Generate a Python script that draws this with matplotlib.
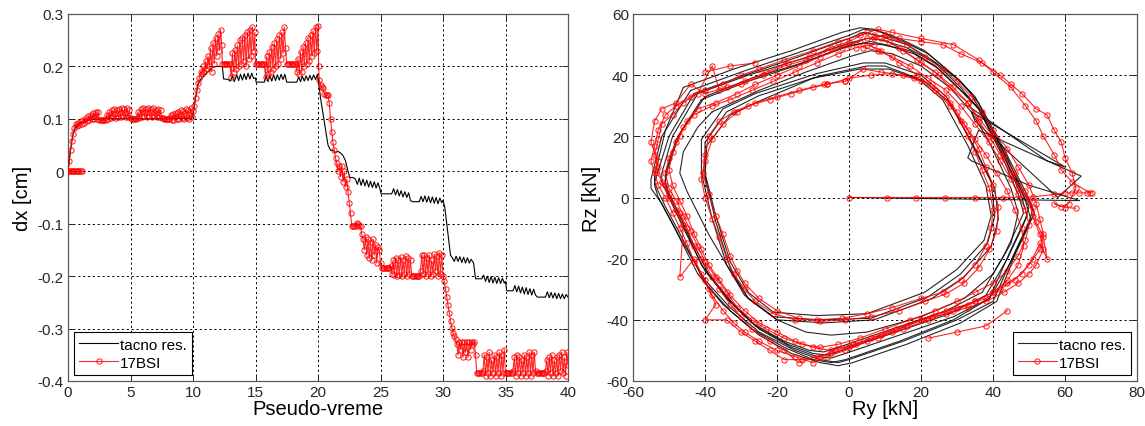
import matplotlib
matplotlib.use("Agg")
import matplotlib.pyplot as plt

plt.rcParams['font.family'] = ['Liberation Sans', 'DejaVu Sans']
plt.rcParams['axes.unicode_minus'] = False

# ---------------- Left panel data: dx vs pseudo-time ----------------
tacno_t = [0.0, 0.2, 0.4, 0.6, 0.8, 1.0, 1.5, 2.0, 2.5, 3.0, 4.0, 5.0, 6.0, 7.0, 8.0, 9.0, 9.8, 10.0,
           10.2, 10.4, 10.6, 10.9, 11.2, 11.5, 11.8, 12.2, 12.35, 12.45, 12.6, 12.8,
           13.0, 13.15, 13.3, 13.5, 13.65, 13.8, 13.95, 14.1, 14.25, 14.4, 14.55, 14.7, 14.85, 15.0,
           15.05, 15.7, 15.85, 16.0, 16.15, 16.3, 16.45, 16.6, 16.75, 16.9, 17.05, 17.2, 17.35, 17.5,
           18.3, 18.45, 18.6, 18.75, 18.9, 19.05, 19.2, 19.35, 19.5, 19.65, 19.8, 19.95,
           20.05, 20.2, 20.4, 20.6, 20.8, 21.0, 21.2, 21.4, 21.6, 21.8, 22.0, 22.2, 22.4, 22.55, 22.8,
           23.0, 23.15, 23.3, 23.45, 23.6, 23.75, 23.9, 24.05, 24.2, 24.35, 24.5, 24.65, 24.8, 24.95,
           25.05, 25.9, 26.05, 26.2, 26.35, 26.5, 26.65, 26.8, 26.95, 27.1, 27.25, 27.4, 27.55,
           28.1, 28.25, 28.4, 28.55, 28.7, 28.85, 29.0, 29.15, 29.3, 29.45, 29.6, 29.75, 29.9, 30.0,
           30.15, 30.3, 30.45, 30.6, 30.75, 30.9, 31.05, 31.2, 31.35, 31.5, 31.65, 31.8, 31.95, 32.1,
           32.25, 32.45, 32.6, 33.1, 33.25, 33.4, 33.55, 33.7, 33.85, 34.0, 34.15, 34.3, 34.45, 34.6,
           34.75, 34.9, 35.0, 35.1, 35.6, 35.75, 35.9, 36.05, 36.2, 36.35, 36.5, 36.65, 36.8, 36.95,
           37.1, 37.25, 37.4, 37.55, 38.2, 38.35, 38.5, 38.65, 38.8, 38.95, 39.1, 39.25, 39.4, 39.55,
           39.7, 39.85, 40.0]
tacno_dx = [0.0, 0.04, 0.07, 0.083, 0.088, 0.092, 0.096, 0.099, 0.1, 0.101, 0.1, 0.102, 0.1, 0.101, 0.1, 0.101, 0.1, 0.105,
            0.14, 0.165, 0.175, 0.183, 0.19, 0.198, 0.2, 0.2, 0.2, 0.176, 0.176, 0.175,
            0.172, 0.182, 0.171, 0.184, 0.173, 0.185, 0.174, 0.186, 0.175, 0.187, 0.176, 0.187, 0.177, 0.178,
            0.17, 0.17, 0.182, 0.171, 0.183, 0.172, 0.184, 0.173, 0.184, 0.174, 0.185, 0.175, 0.185, 0.17,
            0.17, 0.18, 0.171, 0.181, 0.172, 0.182, 0.173, 0.183, 0.174, 0.184, 0.175, 0.185,
            0.17, 0.14, 0.11, 0.08, 0.05, 0.04, 0.04, 0.036, 0.038, 0.035, 0.03, 0.02, 0.0, -0.012, -0.012,
            -0.015, -0.025, -0.013, -0.027, -0.015, -0.028, -0.017, -0.03, -0.019, -0.031, -0.02, -0.032, -0.022, -0.033,
            -0.043, -0.043, -0.033, -0.045, -0.035, -0.047, -0.037, -0.049, -0.039, -0.05, -0.041, -0.056, -0.058,
            -0.058, -0.048, -0.058, -0.047, -0.059, -0.048, -0.06, -0.049, -0.061, -0.05, -0.062, -0.051, -0.06, -0.055,
            -0.07, -0.1, -0.13, -0.16, -0.165, -0.172, -0.162, -0.172, -0.163, -0.174, -0.164, -0.175, -0.165, -0.175,
            -0.168, -0.175, -0.205, -0.205, -0.198, -0.21, -0.2, -0.212, -0.201, -0.213, -0.202, -0.214, -0.203, -0.214,
            -0.204, -0.213, -0.21, -0.228, -0.228, -0.218, -0.23, -0.219, -0.232, -0.221, -0.234, -0.222, -0.235, -0.224,
            -0.236, -0.225, -0.236, -0.24, -0.24, -0.23, -0.241, -0.231, -0.242, -0.232, -0.243, -0.233, -0.243, -0.234,
            -0.243, -0.235, -0.24]

bsi_t_init = [0.0, 0.1, 0.2, 0.3, 0.4, 0.5, 0.6, 0.7, 0.8, 0.9, 1.0, 1.1]
bsi_dx_init = [0.0, 0.0, 0.0, 0.0, 0.0, 0.0, 0.0, 0.0, 0.0, 0.0, 0.0, 0.0]

bsi_t_a = [0.0, 0.1, 0.2, 0.3, 0.4, 0.5, 0.6, 0.7, 0.8, 0.9, 1.0, 1.1, 1.2, 1.3, 1.4, 1.5,
           1.6, 1.7, 1.8, 1.9, 2.0, 2.1, 2.2, 2.3, 2.4, 2.5, 2.6, 2.7, 2.8, 2.9, 3.0,
           3.1, 3.2, 3.3, 3.4, 3.5, 3.6, 3.7, 3.8, 3.9, 4.0, 4.1, 4.2, 4.3, 4.4, 4.5, 4.6, 4.7, 4.8, 4.9, 5.0,
           5.1, 5.2, 5.3, 5.4, 5.5, 5.6, 5.7, 5.8, 5.9, 6.0, 6.1, 6.2, 6.3, 6.4, 6.5, 6.6, 6.7, 6.8, 6.9, 7.0,
           7.1, 7.2, 7.3, 7.4, 7.5, 7.6, 7.7, 7.8, 7.9, 8.0, 8.1, 8.2, 8.3, 8.4, 8.5, 8.6, 8.7, 8.8, 8.9, 9.0,
           9.1, 9.2, 9.3, 9.4, 9.5, 9.6, 9.7, 9.8, 9.9, 10.0]
bsi_dx_a = [0.0, 0.02, 0.04, 0.058, 0.072, 0.083, 0.09, 0.087, 0.092, 0.089, 0.095, 0.091, 0.098, 0.093, 0.101, 0.095,
            0.105, 0.097, 0.108, 0.099, 0.111, 0.1, 0.113, 0.1, 0.114, 0.098, 0.097, 0.097, 0.097, 0.097, 0.098,
            0.108, 0.1, 0.113, 0.101, 0.116, 0.103, 0.118, 0.102, 0.117, 0.104, 0.119, 0.103, 0.12, 0.105, 0.118, 0.104, 0.121, 0.103, 0.117, 0.101,
            0.1, 0.1, 0.1, 0.1, 0.101, 0.113, 0.102, 0.118, 0.104, 0.12, 0.105, 0.119, 0.103, 0.12, 0.106, 0.118, 0.104, 0.12, 0.105, 0.117,
            0.103, 0.119, 0.104, 0.116, 0.102, 0.101, 0.1, 0.1, 0.1, 0.1, 0.1, 0.108, 0.098, 0.11, 0.097, 0.112, 0.099, 0.114, 0.1, 0.116,
            0.101, 0.115, 0.1, 0.118, 0.102, 0.117, 0.1, 0.12, 0.103, 0.115]

bsi_t_b = [10.1, 10.2, 10.3, 10.4, 10.5, 10.6, 10.7, 10.8, 10.9, 11.0, 11.1, 11.2, 11.3, 11.4, 11.5, 11.6, 11.7, 11.8,
           11.9, 12.0, 12.1, 12.2, 12.3, 12.35, 12.45, 12.55, 12.65, 12.75, 12.85, 12.95,
           13.05, 13.15, 13.25, 13.35, 13.45, 13.55, 13.65, 13.75, 13.85, 13.95, 14.05, 14.15, 14.25, 14.35,
           14.45, 14.55, 14.65, 14.75, 14.85, 14.95, 15.0, 15.1, 15.2, 15.3, 15.4, 15.5, 15.6, 15.7,
           15.8, 15.9, 16.0, 16.1, 16.2, 16.3, 16.4, 16.5, 16.6, 16.7, 16.8, 16.9, 17.0, 17.1, 17.2, 17.3, 17.4,
           17.5, 17.6, 17.7, 17.8, 17.9, 18.0, 18.1, 18.2, 18.3, 18.4, 18.5, 18.6, 18.7, 18.8, 18.9, 19.0,
           19.1, 19.2, 19.3, 19.4, 19.5, 19.6, 19.7, 19.8, 19.9, 20.0]
bsi_dx_b = [0.125, 0.14, 0.155, 0.168, 0.178, 0.19, 0.185, 0.2, 0.19, 0.21, 0.195, 0.22, 0.2, 0.235, 0.19, 0.245, 0.205, 0.255,
            0.22, 0.262, 0.23, 0.27, 0.24, 0.205, 0.205, 0.205, 0.205, 0.205, 0.205, 0.205,
            0.18, 0.225, 0.19, 0.232, 0.195, 0.24, 0.2, 0.25, 0.205, 0.255, 0.21, 0.26, 0.2, 0.265,
            0.215, 0.27, 0.22, 0.275, 0.23, 0.265, 0.205, 0.205, 0.205, 0.205, 0.205, 0.205, 0.205, 0.205,
            0.18, 0.22, 0.185, 0.228, 0.19, 0.238, 0.195, 0.245, 0.2, 0.252, 0.205, 0.26, 0.215, 0.265, 0.225, 0.275, 0.235,
            0.205, 0.205, 0.205, 0.205, 0.205, 0.205, 0.205, 0.205, 0.19, 0.215, 0.185, 0.228, 0.19, 0.238, 0.2, 0.245,
            0.205, 0.255, 0.21, 0.26, 0.22, 0.268, 0.225, 0.275, 0.23, 0.278]

bsi_t_c = [20.05, 20.1, 20.2, 20.3, 20.4, 20.5, 20.6, 20.7, 20.8, 20.9, 21.0, 21.1, 21.2, 21.3, 21.4, 21.5, 21.6,
           21.7, 21.8, 21.9, 22.0, 22.1, 22.2, 22.3, 22.4, 22.5, 22.6, 22.7, 22.8, 22.9, 23.0, 23.1, 23.2, 23.3,
           23.4, 23.5, 23.6, 23.7, 23.8, 23.9, 24.0, 24.1, 24.2, 24.3, 24.4, 24.5, 24.6, 24.7, 24.8, 24.9, 25.0,
           25.1, 25.2, 25.3, 25.4, 25.5, 25.6, 25.7, 25.8, 25.9, 26.0, 26.1, 26.2, 26.3, 26.4, 26.5, 26.6, 26.7,
           26.8, 26.9, 27.0, 27.1, 27.2, 27.3, 27.4, 27.5, 27.6, 27.7, 27.8, 27.9, 28.0, 28.1, 28.2, 28.3, 28.4,
           28.5, 28.6, 28.7, 28.8, 28.9, 29.0, 29.1, 29.2, 29.3, 29.4, 29.5, 29.6, 29.7, 29.8, 29.9, 30.0]
bsi_dx_c = [0.2, 0.175, 0.165, 0.16, 0.158, 0.148, 0.146, 0.145, 0.145, 0.13, 0.1, 0.075, 0.055, 0.04, 0.025, 0.015, 0.0,
            0.01, -0.01, 0.01, -0.02, 0.0, -0.03, -0.015, -0.04, -0.06, -0.08, -0.105, -0.105, -0.104, -0.105, -0.098, -0.1, -0.104,
            -0.105, -0.12, -0.13, -0.15, -0.125, -0.16, -0.13, -0.165, -0.135, -0.17, -0.13, -0.16, -0.14, -0.175, -0.145, -0.15, -0.175,
            -0.185, -0.185, -0.185, -0.185, -0.185, -0.185, -0.185, -0.18, -0.195, -0.17, -0.198, -0.165, -0.2, -0.17, -0.198, -0.163, -0.2,
            -0.17, -0.195, -0.162, -0.2, -0.165, -0.195, -0.17, -0.2, -0.2, -0.2, -0.2, -0.2, -0.2, -0.2, -0.19, -0.16, -0.195,
            -0.16, -0.2, -0.165, -0.195, -0.16, -0.2, -0.17, -0.195, -0.158, -0.19, -0.162, -0.2, -0.155, -0.195, -0.16, -0.2]

bsi_t_d = [30.1, 30.2, 30.3, 30.4, 30.5, 30.6, 30.7, 30.8, 30.9, 31.0, 31.1, 31.2, 31.3, 31.4, 31.5, 31.6, 31.7,
           31.8, 31.9, 32.0, 32.1, 32.2, 32.3, 32.4, 32.5, 32.6, 32.7, 32.8, 32.9, 33.0, 33.1, 33.2, 33.3, 33.4,
           33.5, 33.6, 33.7, 33.8, 33.9, 34.0, 34.1, 34.2, 34.3, 34.4, 34.5, 34.6, 34.7, 34.8, 34.9, 35.0, 35.1,
           35.2, 35.3, 35.4, 35.5, 35.6, 35.7, 35.8, 35.9, 36.0, 36.1, 36.2, 36.3, 36.4, 36.5, 36.6, 36.7, 36.8,
           36.9, 37.0, 37.1, 37.2, 37.3, 37.4, 37.5, 37.6, 37.7, 37.8, 37.9, 38.0, 38.1, 38.2, 38.3, 38.4, 38.5,
           38.6, 38.7, 38.8, 38.9, 39.0, 39.1, 39.2, 39.3, 39.4, 39.5, 39.6, 39.7, 39.8, 39.9, 40.0]
bsi_dx_d = [-0.21, -0.225, -0.24, -0.255, -0.27, -0.285, -0.298, -0.308, -0.315, -0.32, -0.33, -0.35, -0.325, -0.34, -0.325, -0.355, -0.325,
            -0.345, -0.326, -0.355, -0.325, -0.34, -0.325, -0.33, -0.325, -0.35, -0.385, -0.385, -0.385, -0.385, -0.385, -0.38, -0.35, -0.39,
            -0.355, -0.385, -0.345, -0.39, -0.36, -0.385, -0.35, -0.39, -0.355, -0.385, -0.345, -0.39, -0.35, -0.385, -0.34, -0.385, -0.385,
            -0.385, -0.385, -0.385, -0.385, -0.38, -0.355, -0.39, -0.35, -0.385, -0.355, -0.39, -0.36, -0.385, -0.35, -0.39, -0.355, -0.385,
            -0.345, -0.39, -0.35, -0.385, -0.345, -0.38, -0.385, -0.385, -0.385, -0.385, -0.385, -0.385, -0.385, -0.38, -0.36, -0.39, -0.355,
            -0.385, -0.35, -0.39, -0.36, -0.385, -0.355, -0.39, -0.35, -0.38, -0.345, -0.385, -0.355, -0.39, -0.345, -0.37]

# ---------------- Right panel data: Rz vs Ry loops ----------------
tacno_ry = [
    [0, 63, 64, 50, 34, 33, 36, 64.5, 58, 35, 34, 60, 55, 33],
    [-8, 5, 10, 19, 26, 33, 38, 39.5, 37.5, 30, 21, 5, -9, -21, -28, -33, -37, -40, -40, -34, -25, -8],
    [-9, 4, 10, 20, 27, 34, 39.5, 40.5, 38.5, 31, 22, 6, -8, -21, -29, -34, -38, -41, -41, -35, -26, -9],
    [-10, 3, 11, 21, 28, 35, 40.5, 41.5, 39.5, 32, 23, 7, -7, -20, -28, -33, -37, -40, -39.5, -33, -24, -10],
    [-38, -25, -12, 0, 6, 12, 20, 28, 34, 39, 45, 47, 45, 40, 32, 20, 5, -5, -12, -20, -28, -34, -39, -45, -47, -46, -42, -38],
    [-44, -30, -15, 0, 4, 8, 15, 22, 30, 35, 42, 48, 51, 50, 46, 40, 30, 15, 0, -3, -8, -15, -25, -33, -40, -47, -52, -55, -55, -52, -44],
    [-42, -28, -14, 0, 5, 9, 16, 24, 31, 36, 43, 48, 49.5, 48, 44, 38, 28, 13, -2, -6, -10, -17, -26, -33, -40, -46, -50, -52, -52, -49, -42],
    [-40, -27, -13, 0, 6, 10, 18, 25, 32, 37, 44, 49, 50.5, 49, 45, 39, 29, 14, -1, -5, -9, -16, -25, -32, -39, -45, -49, -51, -51, -48, -40],
    [-43, -29, -14, 0, 4, 8, 16, 23, 31, 36, 43, 49, 51.5, 50, 46, 41, 31, 16, 1, -3, -8, -16, -25, -33, -40, -46, -51, -53, -54, -50, -43],
    [-46, -32, -16, -2, 3, 7, 14, 21, 29, 34, 41, 47, 50, 49, 45, 39, 29, 14, -1, -5, -10, -18, -27, -35, -42, -48, -53, -54, -54, -51, -46],
    [-41, -28, -15, -2, 4, 9, 17, 24, 31, 36, 42, 47, 48.5, 47, 43, 37, 27, 12, -3, -7, -11, -18, -27, -34, -41, -46, -50, -51, -50.5, -47, -41],
]
tacno_rz = [
    [0, -1, -1, 4, 12, 13, 22, 7, 0, 25, 28, 10, 12, 30],
    [39.8, 43, 43, 39, 32, 17, 4, -6, -14, -23.5, -31, -38, -38.6, -37.5, -31, -21, -6, 8, 18, 28, 33.3, 39.8],
    [40.5, 44, 44, 40, 33, 18, 5, -6, -15, -25, -32.5, -39.5, -40, -39, -32, -22, -7, 8, 19, 29, 34, 40.5],
    [39, 42, 42, 38, 31, 16, 3, -7, -16, -26, -33, -40, -41, -40, -33, -23, -8, 7, 17, 27, 32, 39],
    [28, 35, 41, 46, 48, 47, 43, 36, 28, 18, 3, -5, -15, -25, -33, -39, -44, -45, -44, -40, -33, -22, -12, 2, 8, 15, 23, 28],
    [35, 41, 47, 53, 55, 54.5, 51, 47, 39, 33, 17, 3, -4, -8, -18, -34, -40, -47, -53, -54, -53, -50, -44, -36, -27, -13, -2, 3, 6, 20, 35],
    [34, 40, 45, 50.5, 52, 51.5, 49, 44, 36, 29, 14, 0, -6, -10, -20, -32, -38, -44, -50, -51.5, -51, -48, -42, -34, -24, -10, 0, 5, 8, 20, 34],
    [33, 39, 44, 49.5, 51, 50, 47, 42, 34, 28, 13, -1, -7, -11, -21, -33, -39, -45, -51, -52.5, -52, -49, -43, -35, -25, -11, -1, 4, 8, 19, 33],
    [34, 40, 46, 52, 54, 53, 50, 45, 38, 31, 16, 2, -5, -9, -19, -34, -41, -48, -54, -55, -54, -51, -45, -37, -28, -14, -3, 2, 5, 20, 34],
    [36, 42, 48, 54, 55.5, 55, 52, 48, 40, 34, 18, 4, -3, -7, -17, -33, -40, -47, -53, -54, -53, -49, -43, -35, -25, -11, 0, 4, 7, 22, 36],
    [32, 38, 43, 49, 50.5, 50, 48, 43, 35, 29, 15, 1, -5, -9, -19, -31, -37, -43, -49, -50.5, -50, -47, -41, -33, -22, -9, 1, 5, 9, 21, 32],
]

bsi_ry = [
    [0, 10.5, 18.7, 26.8, 34.9, 42.9, 51.2, 57, 60, 62, 64, 66, 67.4],
    [-1, 4, 9, 15, 20, 24, 28, 31, 33, 35, 37, 39, 40, 39.5, 38, 35, 31, 26, 20, 12, 5, -2, -9, -15, -21, -26, -29,
     -32, -34, -36, -38, -40, -41, -40, -38, -35, -31, -26, -20, -14, -7, -1],
    [-6, 0, 6, 12, 18, 23, 27, 30, 33, 36, 38, 40, 41.5, 41, 39, 36, 32, 27, 21, 14, 6, -1, -8, -14, -20, -25, -29,
     -31, -33, -35, -37, -39, -40.5, -40, -39, -36, -32, -28, -22, -16, -10, -6],
    [67, 62, 59, 57, 54, 52, 49, 45, 40, 36, 29, 20, 12, 8, 3, -3, -10, -18, -25, -30, -35, -40, -44, -48, -51, -53,
     -54, -55, -54, -53, -51, -49, -47, -45, -43, -40, -38, -35, -32, -29, -25, -20, -15, -10, -6, -1, 5, 12, 20, 27,
     33, 38, 42, 46, 50, 53, 54, 53, 52, 50, 47, 44, 40, 37, 34, 30, 26, 21, 16, 10],
    [10, 5, 0, -6, -12, -18, -24, -30, -36, -38, -42, -46, -49, -52, -53, -54, -53, -52, -50, -48, -46, -47, -43, -41,
     -39, -37, -40, -34, -30, -26, -22, -18, -13, -8, -4, 2, 9, 16, 23, 30, 35, 40, 44, 48, 51, 53, 55, 54, 52, 51,
     49, 46, 43, 40, 36, 33, 29, 25, 20, 15, 11, 7],
    [7, 2, -3, -9, -15, -21, -27, -33, -38, -43, -46, -48, -50, -51, -50, -48, -46, -44, -42, -40, -37, -34, -31, -27,
     -23, -18, -13, -8, -3, 3, 10, 17, 24, 30, 35, 40, 44, 47, 49, 50, 49, 47, 45, 42, 39, 35, 31, 27, 22, 17, 12, 8, 4],
    [5, 0, -5, -11, -17, -23, -29, -34, -40, -44, -48, -52, -54, -55, -53, -54, -51, -50, -47, -45, -43, -41, -38, -36,
     -33, -30, -27, -22, -18, -14, -9, -5, 0, 6, 13, 20, 27, 33, 38, 43, 47, 50, 52, 54, 53, 51, 50, 47, 45, 42, 39,
     36, 33, 28, 24, 19, 14, 9],
    [3, -2, -8, -14, -20, -26, -31, -37, -42, -45, -47, -49, -50, -49, -47, -45, -43, -41, -39, -36, -33, -29, -25, -20,
     -15, -10, -5, 1, 8, 15, 22, 29, 35, 40, 44, 47, 48.5, 48, 46, 44, 41, 38, 35, 32, 28, 24, 19, 14, 9, 5],
    [7, 14, 20, 26, 31, 37, 42, 45, 48, 52, 55, 57, 59, 60, 62, 63, 61, 59, 57, 60, 63],
    [22, 30, 38, 44],
    [-40, -33, -26],
]
bsi_rz = [
    [0, 0, 0, 0, 0, 0, 0.2, 1, 1.5, 1.5, 1.5, 1.5, 1.5],
    [38, 42, 41, 40, 38, 35, 31, 25, 20, 15, 9, 3, -4, -10, -16, -22, -27, -31, -33, -36, -38, -39.5, -40, -40, -38, -34, -30,
     -25, -20, -13, -7, 0, 6, 12, 19, 24, 28, 31, 33, 35, 37, 38],
    [37, 39, 40, 40.5, 39, 37, 33, 28, 22, 16, 10, 4, -3, -11, -17, -23, -28, -31.5, -34, -37, -39, -40, -40.5, -39.5, -37, -33, -28,
     -24, -19, -12, -6, 1, 8, 14, 20, 25, 28, 30, 32, 34, 36, 37],
    [1.5, 5, 9, 14, 20, 25, 30, 36, 41, 45, 50, 52, 54, 55, 53, 51, 48, 45, 42, 40, 37, 35, 33, 30, 27, 22,
     17, 12, 8, 4, 0, -5, -10, -15, -21, -27, -32, -37, -41, -44, -47, -50, -52, -54, -52, -50, -47, -44, -40, -37,
     -35, -33, -30, -27, -22, -17, -12, -7, -2, 4, 10, 16, 22, 28, 33, 38, 42, 46, 50, 53],
    [53, 52, 50, 48, 45, 43, 40, 37, 35, 43, 34, 31, 27, 24, 19, 14, 10, 5, 1, -4, -9, -26, -20, -25,
     -30, -35, -40, -40, -44, -47, -50, -53, -53, -52, -50, -48, -45, -42, -39, -36, -34, -31, -28, -25, -20, -15, -20, -13, -8, -3,
     2, 8, 14, 20, 26, 31, 36, 40, 44, 48, 51, 52],
    [50, 49, 47, 44, 41, 38, 35, 32, 30, 27, 23, 18, 13, 8, 3, -1, -6, -11, -16, -21, -26, -31, -36, -40,
     -43, -46, -48, -49, -48, -46, -43, -40, -37, -34, -31, -28, -24, -19, -14, -9, -4, 1, 6, 12, 18, 24, 30, 35, 39, 43, 46, 48, 49],
    [54, 51, 49, 46, 44, 41, 38, 36, 34, 37, 31, 29, 25, 18, 12, 9, 4, 0, -5, -10, -16, -20, -26, -30,
     -35, -39, -43, -47, -50, -54, -52, -51, -49, -46, -43, -40, -38, -36, -34, -31, -28, -25, -22, -17, -12, -6, -1,
     3, 8, 14, 20, 25, 31, 36, 41, 45, 49, 52],
    [51, 49, 46, 43, 40, 37, 34, 31, 29, 25, 20, 15, 9, 4, -1, -6, -12, -17, -22, -27, -32, -37, -41, -44,
     -47, -49, -50, -48, -46, -43, -40, -37, -34, -31, -27, -22, -16, -10, -4, 2, 8, 14, 19, 24, 30, 35, 40, 44, 48, 50],
    [53, 52, 51, 50, 47, 44, 40, 37, 34, 29, 27, 22, 18, 13, 8, 3, -2, -3, -2, -3.3, -3.5],
    [-46, -44, -42, -37],
    [41, 43, 44],
]

# ---------------- Drawing ----------------
fig = plt.figure(figsize=(11.45, 4.27), dpi=100)
ax1 = fig.add_axes([68 / 1145, 1 - 382 / 427, 500 / 1145, 367 / 427])
ax2 = fig.add_axes([633 / 1145, 1 - 382 / 427, 504 / 1145, 367 / 427])

red_kw = dict(color='red', lw=0.8, marker='o', ms=3.8, mfc='none', mew=0.75, alpha=0.85)

ax1.plot(tacno_t, tacno_dx, color='black', lw=0.8, label='tacno res.', zorder=3)
ax1.plot(bsi_t_init, bsi_dx_init, **red_kw, zorder=4)
bsi_t_all = bsi_t_a + bsi_t_b + bsi_t_c + bsi_t_d
bsi_dx_all = bsi_dx_a + bsi_dx_b + bsi_dx_c + bsi_dx_d
ax1.plot(bsi_t_all, bsi_dx_all, **red_kw, label='17BSI', zorder=4)

for i, (ry, rz) in enumerate(zip(tacno_ry, tacno_rz)):
    ax2.plot(ry, rz, color='black', lw=0.8, alpha=0.85, zorder=3,
             label='tacno res.' if i == 0 else None)
for i, (ry, rz) in enumerate(zip(bsi_ry, bsi_rz)):
    ax2.plot(ry, rz, **red_kw, zorder=4, label='17BSI' if i == 0 else None)

x1_ticks = [0, 5, 10, 15, 20, 25, 30, 35, 40]
y1_ticks = [-0.4, -0.3, -0.2, -0.1, 0, 0.1, 0.2, 0.3]
x2_ticks = [-60, -40, -20, 0, 20, 40, 60, 80]
y2_ticks = [-60, -40, -20, 0, 20, 40, 60]


def fmt(v):
    return '%g' % v


for ax, xt, yt, xl, yl, loc in [
        (ax1, x1_ticks, y1_ticks, 'Pseudo-vreme', 'dx [cm]', 'lower left'),
        (ax2, x2_ticks, y2_ticks, 'Ry [kN]', 'Rz [kN]', 'lower right')]:
    ax.set_xlim(xt[0], xt[-1])
    ax.set_ylim(yt[0], yt[-1])
    ax.set_xticks(xt)
    ax.set_yticks(yt)
    ax.set_xticklabels([fmt(v) for v in xt])
    ax.set_yticklabels([fmt(v) for v in yt])
    ax.tick_params(direction='in', length=4, width=0.7, top=True, right=True,
                   labelsize=11, colors='0.15', pad=3)
    ax.grid(True, color='black', linestyle=(0, (2.2, 2.8)), linewidth=0.7)
    for s in ax.spines.values():
        s.set_color('0.35')
        s.set_linewidth(0.9)
    ax.set_xlabel(xl, fontsize=14.5, labelpad=0)
    ax.set_ylabel(yl, fontsize=14.5, labelpad=4)
    leg = ax.legend(loc=loc, fontsize=11, frameon=True, fancybox=False, framealpha=1,
                    edgecolor='black', handlelength=2.5, handletextpad=0.15,
                    borderpad=0.35, labelspacing=0.25, borderaxespad=0.4)
    leg.get_frame().set_linewidth(0.8)

fig.savefig('out.png', dpi=100)
